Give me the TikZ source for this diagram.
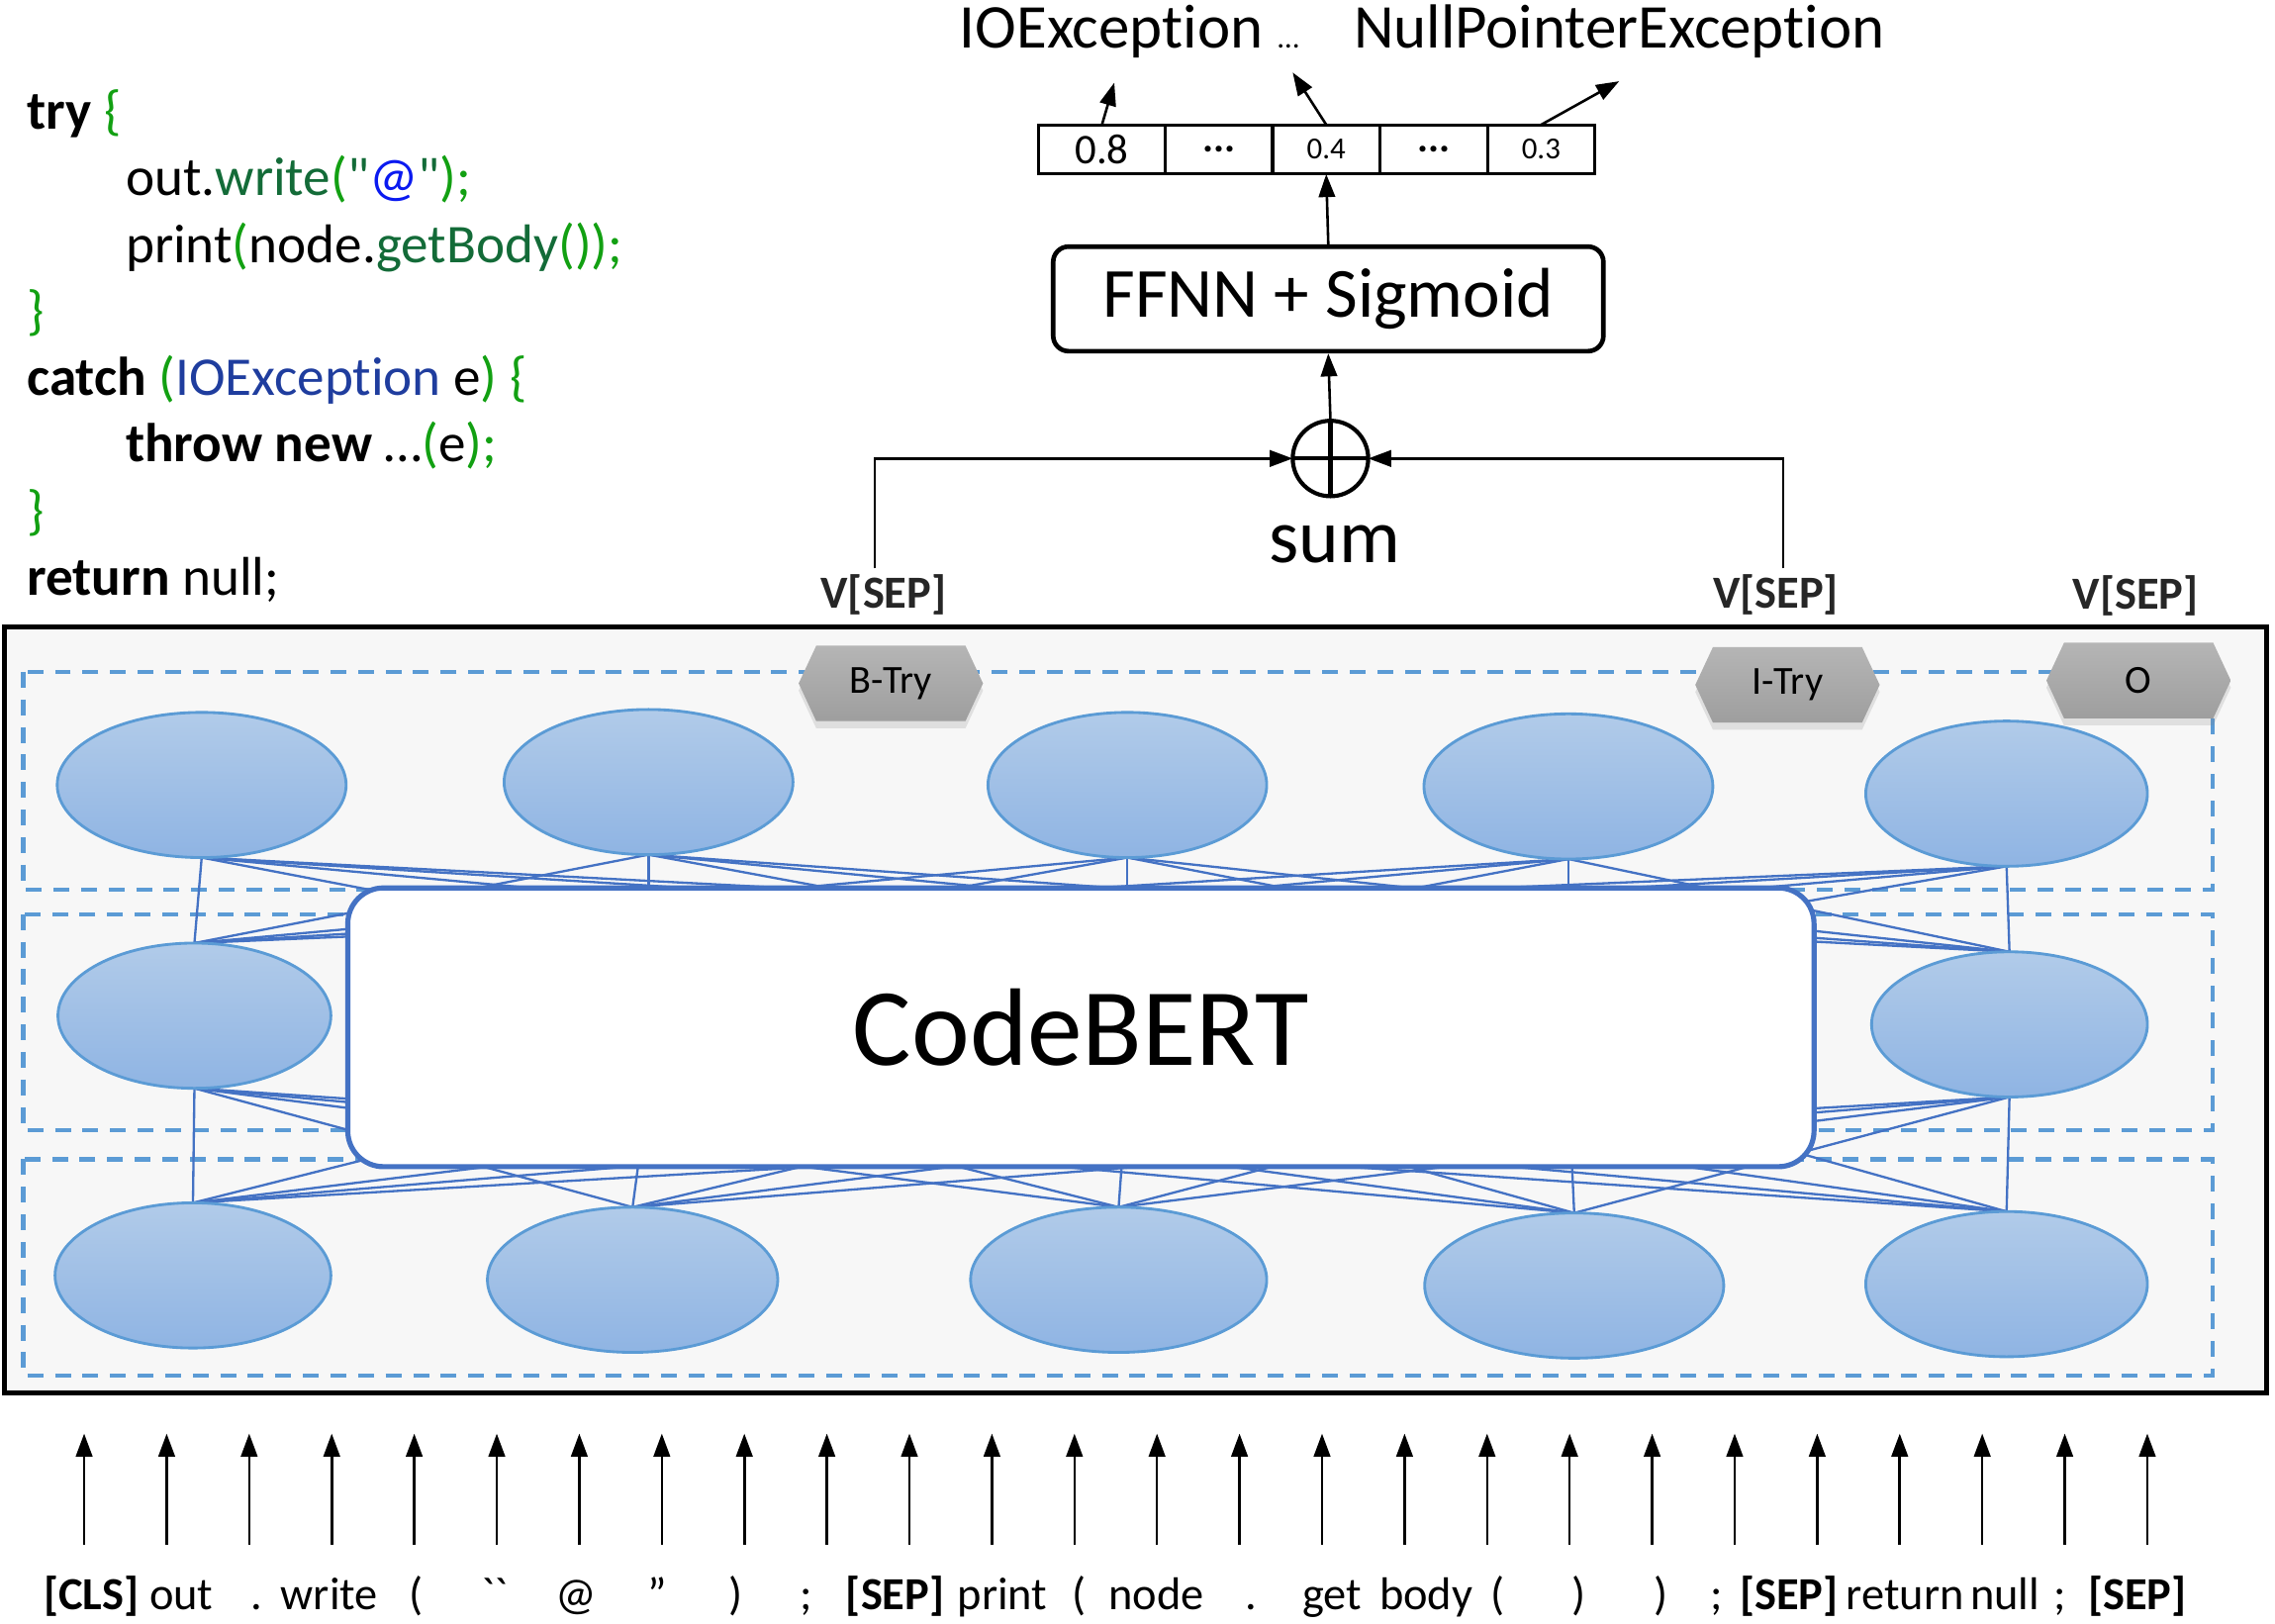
\documentclass[tikz,border=0pt]{standalone}
\usepackage{fontspec}
\setmainfont{Carlito}[Ligatures={TeX,NoCommon}]
\usepackage{xcolor}
\usetikzlibrary{arrows.meta,positioning,shapes.geometric,shapes.symbols,shadows}
\definecolor{cbedge}{HTML}{5B9BD5}
\definecolor{cbwire}{HTML}{4472C4}
\definecolor{celltop}{HTML}{B1CBE9}
\definecolor{cellbot}{HTML}{8FB4E3}
\definecolor{cpanel}{HTML}{F7F7F7}
\definecolor{chextop}{HTML}{B5B5B5}
\definecolor{chexbot}{HTML}{9E9E9E}
\definecolor{jgreen}{HTML}{12A012}
\definecolor{jmethod}{HTML}{136B38}
\definecolor{jat}{HTML}{0A1AF0}
\definecolor{jtype}{HTML}{1F3D9E}
\newcommand{\setfs}[1]{\fontsize{#1}{#1}\selectfont}
\newcommand{\jkw}[1]{\textbf{#1}}
\newcommand{\jpar}[1]{\textcolor{jgreen}{#1}}
\newcommand{\jmeth}[1]{\textcolor{jmethod}{#1}}
\newcommand{\jtype}[1]{\textcolor{jtype}{#1}}
\newcommand{\jat}[1]{\textcolor{jat}{#1}}
\pgfdeclarelayer{backdrop}
\pgfdeclarelayer{wires}
\pgfsetlayers{backdrop,wires,main}

\begin{document}
\begin{tikzpicture}[
  x=0.01cm, y=-0.01cm,
  neuron/.style={ellipse, draw=cbedge, line width=0.55pt, top color=celltop,
               bottom color=cellbot, minimum height=1cm, inner sep=0pt, outer sep=0pt},
  wire/.style={cbwire, line width=0.45pt},
  layerbox/.style={cbedge, line width=0.85pt, dash pattern=on 3.1pt off 2.3pt},
  tagbox/.style={signal, signal to=east and west, signal pointer angle=130,
               top color=chextop, bottom color=chexbot, minimum width=1.27cm,
               minimum height=0.52cm, inner sep=0pt, font=\setfs{7.8},
               drop shadow={opacity=0.2, shadow xshift=0pt, shadow yshift=-1.4pt}},
  probcell/.style={draw, line width=0.6pt, minimum height=0.34cm, minimum width=0.74cm,
               inner sep=0pt, outer sep=0pt},
  arrow/.style={-{Triangle[length=4.5pt,width=3.2pt]}, line width=0.5pt},
  token/.style={anchor=base, font=\setfs{9}, inner sep=0pt},
  vsep/.style={anchor=base, font=\setfs{9}\bfseries, text=black!85, inner sep=1pt},
  codeline/.style={anchor=base west, font=\setfs{10.7}, inner sep=0pt},
]
\useasboundingbox (0,0) rectangle (1568,1119);

% panel and the three layers
\begin{pgfonlayer}{backdrop}
\fill[cpanel] (3,432) rectangle (1562,960);
\foreach \ya/\yb in {463/613, 630/779, 799/948}
  \draw[layerbox] (16,\ya) rectangle (1525,\yb);
\end{pgfonlayer}

% neurons
\foreach \n/\cx/\cy/\w in {t1/139/541/1.99, t2/447/539/1.99, t3/777/541/1.92,
    t4/1081/542/1.99, t5/1383/547/1.94, m1/134/700/1.88, m2/447/700/1.9,
    m3/777/700/1.9, m4/1081/700/1.9, m5/1385/706/1.9, b1/133/879/1.9,
    b2/436/882/2.0, b3/771/882/2.04, b4/1085/886/2.06, b5/1383/885/1.94}
  \node[neuron, minimum width=\w cm] (\n) at (\cx,\cy) {};

\begin{pgfonlayer}{wires}
\foreach \i in {1,...,5} {
  \foreach \j in {1,...,5} {
    \draw[wire] (t\i.south) -- (m\j.north);
    \draw[wire] (m\i.south) -- (b\j.north);
  }
}
\end{pgfonlayer}

\node[draw=cbwire, line width=1pt, fill=white, rounded corners=7pt, minimum width=10.1cm,
      minimum height=1.92cm, font=\setfs{21.6}] (bert) at (745,708) {CodeBERT};

% tags
\node[tagbox] (btry) at (614,471) {B-Try};
\node[tagbox] (itry) at (1232,472) {I-Try};
\node[tagbox] (otag) at (1474,469) {O};

\node[vsep] (v1) at (609,419) {V[SEP]};
\node[vsep] (v2) at (1224,419) {V[SEP]};
\node[vsep] (v3) at (1472,420) {V[SEP]};

\draw[line width=1pt] (3,432) rectangle (1562,960);

% sum, classifier, probabilities
\node[circle, draw, line width=0.8pt, minimum size=0.52cm, inner sep=0pt, outer sep=0pt]
  (plus) at (917,316) {};
\draw[line width=0.8pt] (plus.north) -- (plus.south) (plus.west) -- (plus.east);
\node[font=\setfs{15}] (sumlbl) at (920,375) {sum};

\draw[arrow] ([xshift=-0.06cm]v1.north) |- (plus.west);
\draw[arrow] ([xshift=0.05cm]v2.north) |- (plus.east);

\node[draw, line width=0.9pt, rounded corners=3pt, minimum width=3.79cm, minimum height=0.72cm,
      font=\setfs{13.8}] (ffnn) at (915.5,206) {FFNN + Sigmoid};
\draw[arrow] (plus.north) -- (ffnn.south);

\node[probcell, minimum width=0.87cm, font=\setfs{8.3}] (p1) at (759.5,103) {0.8};
\node[probcell, right=0pt of p1, font=\setfs{8}\bfseries] (p2) {...};
\node[probcell, right=0pt of p2, font=\setfs{6}] (p3) {0.4};
\node[probcell, right=0pt of p3, font=\setfs{8}\bfseries] (p4) {...};
\node[probcell, right=0pt of p4, font=\setfs{6}] (p5) {0.3};
\draw[arrow] (ffnn.north) -- (p3.south);

\node[anchor=base, font=\setfs{12.2}, inner sep=0pt] (ioe) at (766,33) {IOException};
\node[anchor=base, font=\setfs{6}, inner sep=0pt] (more) at (888,33) {…};
\node[anchor=base, font=\setfs{12.2}, inner sep=0pt] (npe) at (1116,33) {NullPointerException};
\coordinate (o1) at (768,57);
\coordinate (o2) at (891,50);
\coordinate (o3) at (1116,56);
\draw[arrow] (p1.north) -- (o1);
\draw[arrow] (p3.north) -- (o2);
\draw[arrow] (p5.north) -- (o3);

% source code
\foreach \k/\ind/\txt in {
    0/18/{\jkw{try} \jpar{\{}},
    1/86/{out.\jmeth{write}\jpar{(}\jmeth{\textquotedbl}\jat{@}\jmeth{\textquotedbl}\jpar{);}},
    2/86/{print\jpar{(}node.\jmeth{getBody}\jpar{());}},
    3/18/{\jpar{\}}},
    4/18/{\jkw{catch} \jpar{(}\jtype{IOException} e\jpar{)} \jpar{\{}},
    5/86/{\jkw{throw new} …\jpar{(}e\jpar{);}},
    6/18/{\jpar{\}}},
    7/18/{\jkw{return} null;}}
  \node[codeline] (code\k) at (\ind,{89+45.9*\k}) {\txt};

% input tokens
\foreach \k in {0,...,25} {
  \coordinate (in\k) at ({58+56.88*\k},1065);
  \coordinate (up\k) at ({58+56.88*\k},988);
  \draw[arrow] (in\k) -- (up\k);
}
\foreach \x/\t in {63/\textbf{[CLS]}, 125/out, 177/., 227/write, 287/(,
    341/\textasciigrave\textasciigrave, 397/@, 453/”, 507/), 556/;, 617/\textbf{[SEP]},
    691/print, 744/(, 797/node, 862/., 918/get, 983/body, 1032/(, 1088/), 1145/),
    1183/;, 1233/\textbf{[SEP]}, 1313/return, 1382/null, 1420/;, 1473/\textbf{[SEP]}}
  \node[token] (tok\x) at (\x,1109) {\t};

\end{tikzpicture}
\end{document}
